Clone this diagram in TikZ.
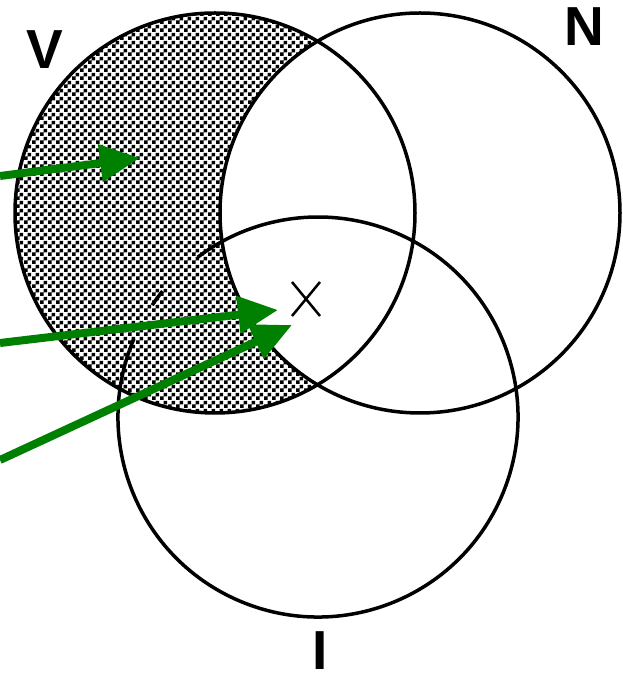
\documentclass[tikz,border=0pt]{standalone}
\usepackage{fontspec}
\setmainfont{Liberation Sans}
\usetikzlibrary{arrows.meta,patterns.meta}
\definecolor{arrowgreen}{RGB}{0,128,0}
\tikzdeclarepattern{
  name=checker,
  type=uncolored,
  bottom left={(0pt,0pt)},
  top right={(8pt,8pt)},
  tile size={(8pt,8pt)},
  code={
    \pgfpathrectangle{\pgfpointorigin}{\pgfqpoint{4pt}{4pt}}
    \pgfpathrectangle{\pgfqpoint{4pt}{4pt}}{\pgfqpoint{4pt}{4pt}}
    \pgfusepath{fill}
  }
}
\begin{document}
\begin{tikzpicture}[x=1pt,y=1pt,
  circ/.style={draw=black,line width=3.5pt},
  garrow/.style={draw=arrowgreen,line width=8pt,-{Triangle[length=40pt,width=36pt]}},
  lbl/.style={inner sep=0pt,font=\bfseries\fontsize{55}{55}\selectfont}]
\useasboundingbox (0,0) rectangle (622,680);
\coordinate (cV) at (215,467);
\coordinate (cN) at (420,467);
\coordinate (cI) at (318,263);
% shaded region V minus N
\begin{scope}
\clip (cV) circle (200);
\fill[pattern=checker,pattern color=black,even odd rule] (cV) circle (200) (cN) circle (200);
\end{scope}
% circles
\draw[circ] (cV) circle (200);
\draw[circ] (cN) circle (200);
\draw[circ] (cI) ++(157:200) arc[start angle=157,end angle=487,radius=200];
\draw[circ] (cI) ++(141:200) arc[start angle=141,end angle=146,radius=200];
% x mark
\coordinate (xm) at (306,381);
\draw[line width=2.5pt] (xm) ++(-14,17) -- ++(28,-34);
\draw[line width=2.5pt] (xm) ++(-14,-17) -- ++(28,34);
% labels
\node[lbl] (lV) at (45,630) {V};
\node[lbl] (lN) at (584,653) {N};
\node[lbl] (lI) at (320,29) {I};
% arrows
\coordinate (a1) at (0,504);
\coordinate (t1) at (140,522);
\coordinate (a2) at (0,337);
\coordinate (t2) at (278,370);
\coordinate (a3) at (0,220);
\coordinate (t3) at (292,355);
\draw[garrow] (a1) -- (t1);
\draw[garrow] (a2) -- (t2);
\draw[garrow] (a3) -- (t3);
\end{tikzpicture}
\end{document}
